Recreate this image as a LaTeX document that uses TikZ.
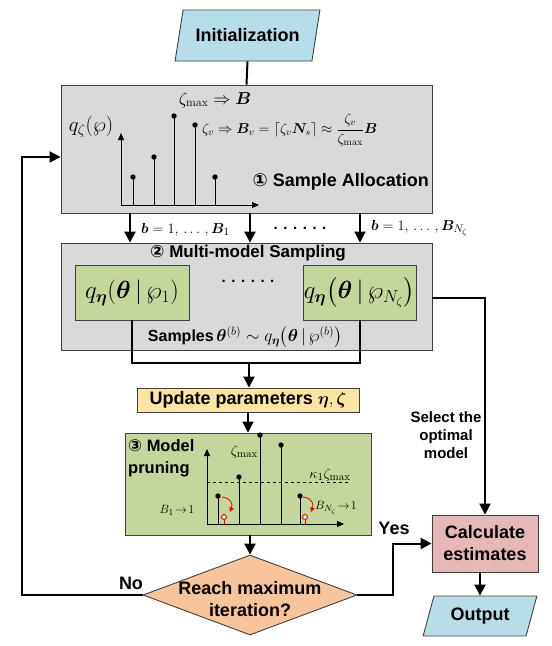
\documentclass[tikz,border=0pt]{standalone}
\usepackage{amsmath}
\usepackage{bm}
\usepackage[no-math]{fontspec}
\setmainfont{Liberation Sans}
\newfontfamily\dv{DejaVu Sans}
\usetikzlibrary{arrows.meta,shapes.geometric,calc}
\definecolor{grayfill}{HTML}{D9D9D9}
\definecolor{grayline}{HTML}{404040}
\definecolor{greenfill}{HTML}{C4D79B}
\definecolor{yellowfill}{HTML}{FCE4A2}
\definecolor{orangefill}{HTML}{F8C49B}
\definecolor{pinkfill}{HTML}{E6B9B8}
\definecolor{bluefill}{HTML}{B7DEE8}
\tikzset{
  boxbase/.style={draw=grayline, line width=0.9pt, inner sep=0pt},
  graybox/.style={boxbase, fill=grayfill},
  greenbox/.style={boxbase, fill=greenfill},
  lbl/.style={font=\fontsize{18}{22}\selectfont\bfseries, inner sep=0pt},
  smalllbl/.style={font=\fontsize{15}{18}\selectfont\bfseries, inner sep=0pt, align=center},
  mathlbl/.style={font=\fontsize{16}{18}\selectfont, inner sep=0pt},
  para/.style={trapezium, trapezium stretches=true, draw=grayline, fill=bluefill, line width=0.9pt, inner sep=0pt, font=\fontsize{18}{22}\selectfont\bfseries},
  conn/.style={line width=2pt, black},
  arr/.style={conn, -{Triangle[length=11pt,width=11pt]}},
  thinarr/.style={line width=0.9pt, -{Triangle[length=7pt,width=6pt]}},
  stemline/.style={line width=0.9pt},
  redarr/.style={red, line width=0.8pt, -{Triangle[length=4.5pt,width=4.5pt]}}
}
\begin{document}
\begin{tikzpicture}[x=1pt,y=-1pt]
\useasboundingbox (0,0) rectangle (552,646);

% ---------- main blocks ----------
\node[para, trapezium left angle=64, trapezium right angle=116, minimum width=145, minimum height=51] (init) at (247.5,35.5) {Initialization};
\node[graybox, minimum width=371, minimum height=128] (b1) at (246.5,149) {};
\node[graybox, minimum width=371, minimum height=107] (b2) at (246.5,296.5) {};
\node[greenbox, minimum width=114, minimum height=55, font=\fontsize{23}{25}\selectfont] (g1) at (132,292.5) {$q_{\bm\eta}\!\left(\bm\theta\,|\,\wp_1\right)$};
\node[greenbox, minimum width=113, minimum height=55, font=\fontsize{23}{25}\selectfont] (g2) at (359.5,292.5) {$q_{\bm\eta}\!\left(\bm\theta\,|\,\wp_{N_\zeta}\right)$};
\node[boxbase, fill=yellowfill, minimum width=222, minimum height=24, font=\fontsize{18}{22}\selectfont\bfseries] (upd) at (248,400) {Update parameters $\bm\eta,\bm\zeta$};
\node[greenbox, minimum width=246, minimum height=102] (b3) at (248,484) {};
\node[diamond, draw=grayline, fill=orangefill, line width=0.9pt, inner sep=0pt, minimum width=214, minimum height=80] (dia) at (250,595) {};
\node[lbl, align=center] (diat) at (250,599) {Reach maximum\\iteration?};
\node[boxbase, fill=pinkfill, minimum width=106, minimum height=57, align=center, font=\fontsize{18}{22}\selectfont\bfseries] (calc) at (485,543.5) {Calculate\\estimates};
\node[para, trapezium left angle=67, trapezium right angle=113, minimum width=114, minimum height=40] (out) at (480,616) {Output};

% ---------- box 1 contents ----------
\draw[thinarr] (121,205) -- (121,133);
\draw[thinarr] (121,205) -- (259,205);
\foreach \x/\y in {133/177,154/157,174/116,195/125,215/177}{
  \draw[stemline] (\x,205) -- (\x,\y);
  \fill (\x,\y) circle (2.7);
}
\node[mathlbl, font=\fontsize{20}{22}\selectfont] (qz) at (91,127) {$q_{\zeta}\!\left(\wp\right)$};
\node[mathlbl, font=\fontsize{17}{19}\selectfont] (zmax) at (215,100) {$\zeta_{\max}\Rightarrow\bm{B}$};
\node[mathlbl, anchor=west, font=\fontsize{14.5}{16}\selectfont] (zv) at (202,130) {$\zeta_v\Rightarrow\bm{B}_v=\left\lceil\zeta_v \bm{N}_s\right\rceil\approx\dfrac{\zeta_v}{\zeta_{\max}}\bm{B}$};
\node[lbl, anchor=east] (sa) at (429,182) {{\dv ①} Sample Allocation};

% ---------- between box 1 and box 2 ----------
\node[mathlbl, anchor=west, font=\fontsize{15.5}{18}\selectfont] (lb1) at (141,230) {$\bm{b}=1,\,\ldots\,,\bm{B}_1$};
\node[lbl, font=\fontsize{15}{18}\selectfont\bfseries] (dots1) at (300,228) {. . . . . .};
\node[mathlbl, anchor=west, font=\fontsize{15.5}{18}\selectfont] (lb2) at (371,228) {$\bm{b}=1,\,\ldots\,,\bm{B}_{N_\zeta}$};

% ---------- box 2 contents ----------
\node[lbl, font=\fontsize{17}{20}\selectfont\bfseries] (mt) at (248,253) {{\dv ②} Multi-model Sampling};
\node[lbl, font=\fontsize{15}{18}\selectfont\bfseries] (dots2) at (248,281) {. . . . . .};
\node[lbl, font=\fontsize{16}{18}\selectfont\bfseries] (smp) at (245,337) {Samples\,{\fontsize{18}{20}\selectfont$\bm\theta^{(b)}\sim q_{\bm\eta}\!\left(\bm\theta\,|\,\wp^{(b)}\right)$}};

% ---------- box 3 contents ----------
\draw[thinarr] (207,524) -- (207,449);
\draw[thinarr] (207,524) -- (344,524);
\draw[dashed, line width=0.7pt] (207,482) -- (350,482);
\foreach \x/\y in {218/496,239/477,260/435,281/445,300/496}{
  \draw[stemline] (\x,524) -- (\x,\y);
  \fill (\x,\y) circle (2.7);
}
\foreach \x in {224,305}{
  \draw[red, line width=0.9pt] (\x,524) -- (\x,519.5);
  \draw[red, fill=white, line width=1pt] (\x,517) circle (2.5);
}
\draw[redarr] (222,497) .. controls (231,498) and (233,504) .. (230,512);
\draw[redarr] (303,497) .. controls (312,498) and (314,504) .. (311,512);
\node[lbl, align=left, anchor=north west, font=\fontsize{16.5}{22}\selectfont\bfseries] (mp) at (128,439) {{\dv ③} Model\\pruning};
\node[mathlbl, anchor=east, font=\fontsize{15}{17}\selectfont] (zm3) at (258,452) {$\zeta_{\max}$};
\node[mathlbl, font=\fontsize{15.5}{17}\selectfont] (k1) at (330,475) {$\kappa_1\zeta_{\max}$};
\node[mathlbl, font=\fontsize{12.5}{14}\selectfont] (bl1) at (177,510) {$B_1\!\to\! 1$};
\node[mathlbl, font=\fontsize{12.5}{14}\selectfont] (bl2) at (336,508) {$B_{N_\zeta}\!\to\! 1$};

% ---------- connectors ----------
\draw[conn] (init.south) -- (b1.north);
\foreach \x in {130,250,360}{
  \draw[arr] (\x,0 |- b1.south) -- (\x,0 |- b2.north);
}
\coordinate (mid) at (249,363);
\draw[conn] (g1.south) |- (mid) -| (g2.south);
\draw[arr] (mid) -- (upd.north -| mid);
\draw[arr] (upd.south) -- (b3.north);
\draw[arr] (b3.south -| dia.north) -- (dia.north);
\coordinate (loopc) at (22,157);
\draw[arr] (dia.west) -| (loopc) -- (loopc -| b1.west);
\coordinate (yesc) at (393,595);
\draw[arr] (dia.east) -- (yesc) |- (calc.west);
\draw[arr] (b2.east |- 0,298) -| (calc.north);
\draw[arr] (calc.south -| out.north) -- (out.north);

% ---------- labels ----------
\node[lbl] (no) at (131,583) {No};
\node[lbl] (yes) at (394,528) {Yes};
\node[smalllbl] (sel) at (446,435) {Select the\\optimal\\model};
\end{tikzpicture}
\end{document}
